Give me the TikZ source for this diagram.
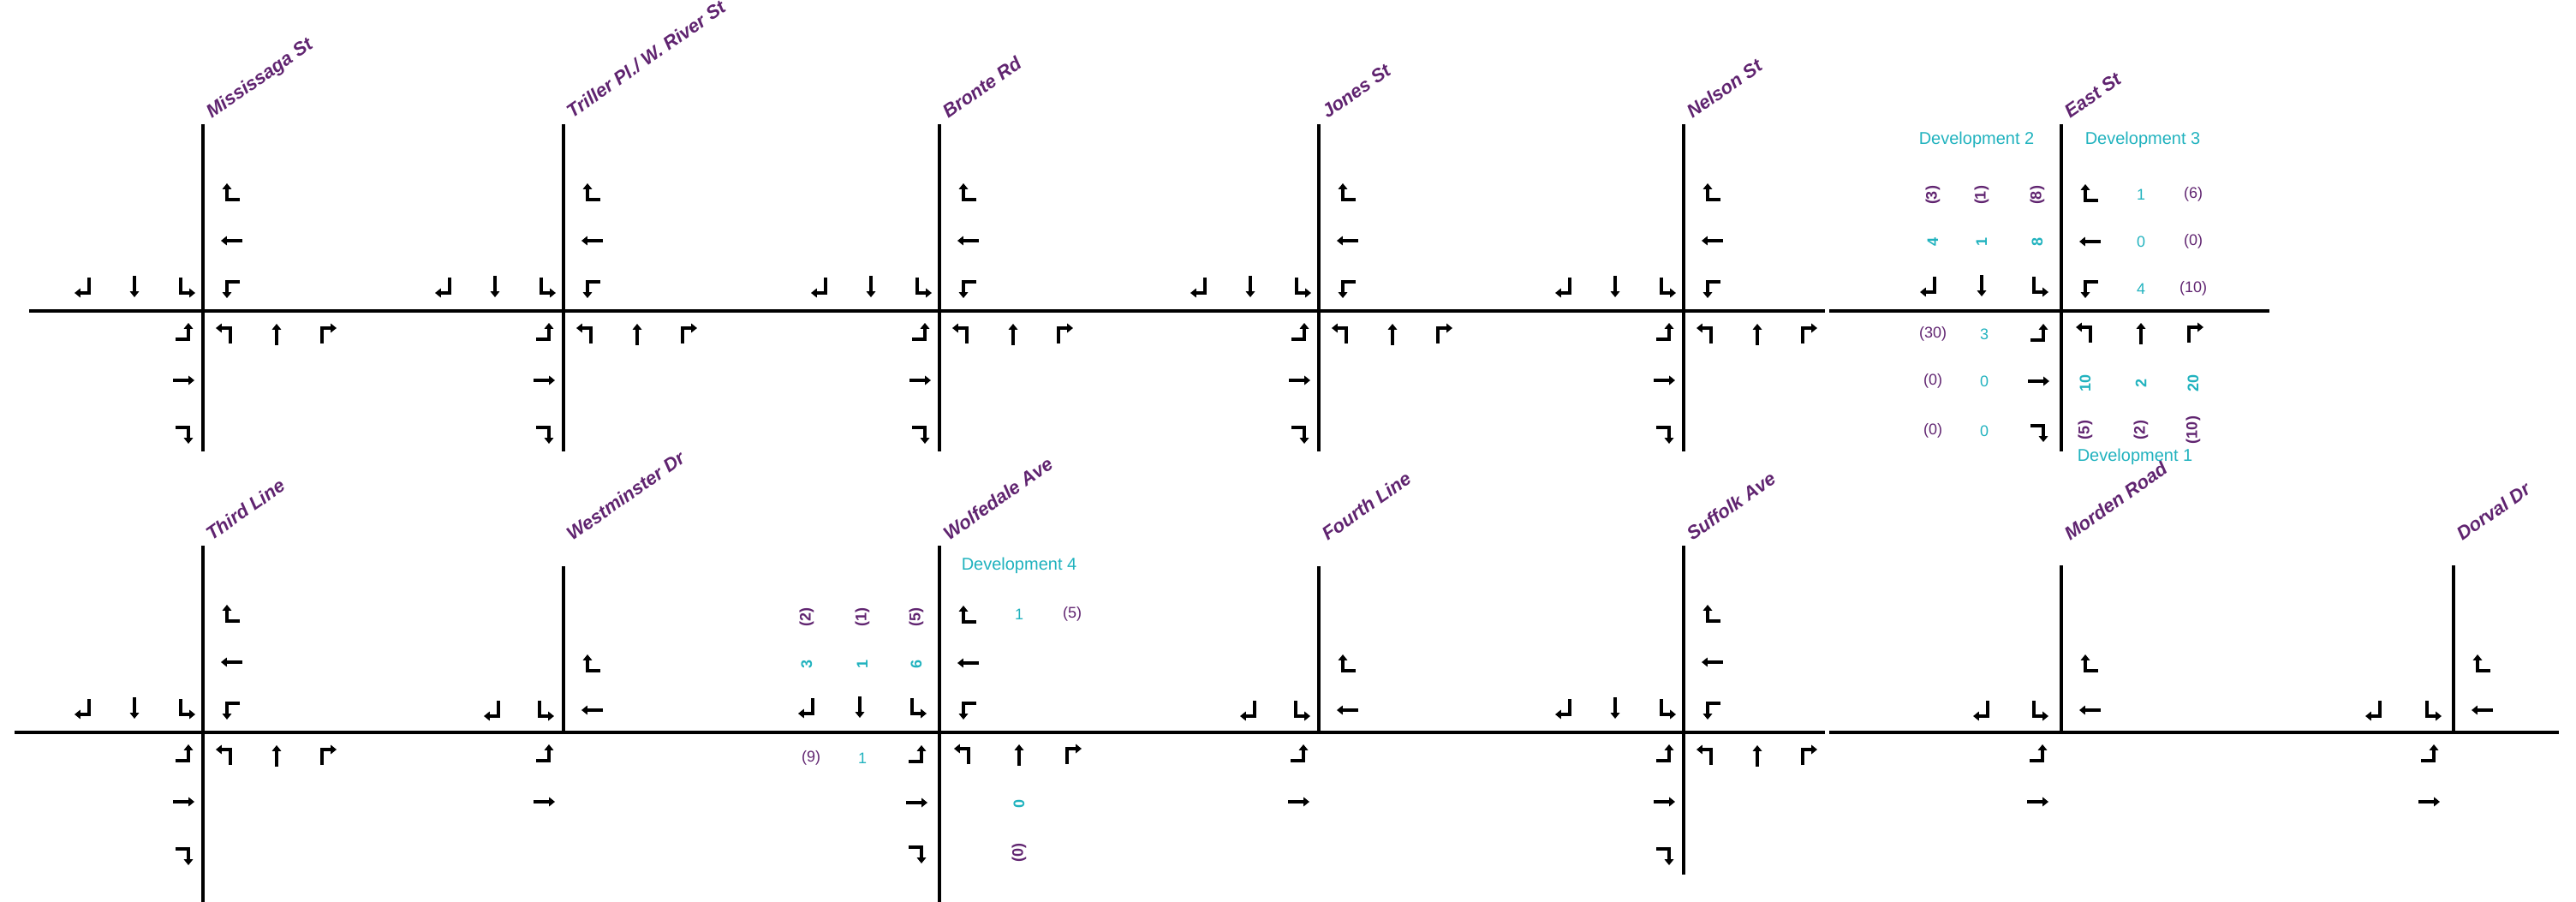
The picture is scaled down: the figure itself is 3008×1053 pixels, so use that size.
\documentclass[tikz,border=0pt]{standalone}
\usepackage{fontspec}
\setmainfont{Liberation Sans}
\usetikzlibrary{arrows.meta}
\definecolor{pur}{RGB}{96,36,112}
\definecolor{cya}{RGB}{32,178,190}
\tikzset{
  road/.style={line width=1.8pt, black},
  glyph/.style={line width=2.2pt, black, -{Triangle[length=3.4pt,width=5.2pt]}},
  eR/.pic={\draw[glyph] (9,8) -- (-6,8) -- (-6,-11);},
  eT/.pic={\draw[glyph] (12,0) -- (-13,0);},
  eL/.pic={\draw[glyph] (9,-8) -- (-6,-8) -- (-6,11);},
  nR/.pic={\draw[glyph] (6,-10) -- (6,8) -- (-11,8);},
  nT/.pic={\draw[glyph] (0,-12) -- (0,13);},
  nL/.pic={\draw[glyph] (-6,-10) -- (-6,8) -- (11,8);},
  wL/.pic={\draw[glyph] (-9,8) -- (6,8) -- (6,-11);},
  wT/.pic={\draw[glyph] (-12,0) -- (13,0);},
  wR/.pic={\draw[glyph] (-9,-8) -- (6,-8) -- (6,11);},
  sL/.pic={\draw[glyph] (6,10) -- (6,-8) -- (-11,-8);},
  sT/.pic={\draw[glyph] (0,12) -- (0,-13);},
  sR/.pic={\draw[glyph] (-6,10) -- (-6,-8) -- (11,-8);},
  street/.style={text=pur, font=\fontsize{11}{13}\selectfont\bfseries\itshape, rotate=35, anchor=base west, inner sep=0pt},
  dev/.style={text=cya, font=\fontsize{10}{12}\selectfont, inner sep=0pt},
  pn/.style={text=pur, font=\fontsize{9}{11}\selectfont, inner sep=0pt},
  cn/.style={text=cya, font=\fontsize{9}{11}\selectfont, inner sep=0pt},
  pv/.style={text=pur, rotate=90, font=\fontsize{9}{11}\selectfont\bfseries, inner sep=0pt},
  cv/.style={text=cya, rotate=90, font=\fontsize{9}{11}\selectfont\bfseries, inner sep=0pt},
}
\newcommand\fullstd[2]{%
 \begin{scope}[shift={(#1,#2)}]
  \pic at (34,-138) {eR}; \pic at (34,-82) {eT}; \pic at (34,-26) {eL};
  \pic at (-139,-29) {nR}; \pic at (-80,-29) {nT}; \pic at (-20,-29) {nL};
  \pic at (-23,25) {wL}; \pic at (-23,81) {wT}; \pic at (-23,144) {wR};
  \pic at (26,28) {sL}; \pic at (86,28) {sT}; \pic at (145,28) {sR};
 \end{scope}}
\newcommand\fullwide[2]{%
 \begin{scope}[shift={(#1,#2)}]
  \pic at (34,-137) {eR}; \pic at (34,-81) {eT}; \pic at (34,-26) {eL};
  \pic at (-154,-30) {nR}; \pic at (-93,-30) {nT}; \pic at (-26,-30) {nL};
  \pic at (-27,26) {wL}; \pic at (-27,82) {wT}; \pic at (-27,142) {wR};
  \pic at (28,27) {sL}; \pic at (93,27) {sT}; \pic at (155,27) {sR};
 \end{scope}}
\newcommand\tint[5]{%
 \begin{scope}[shift={(#1,#2)}]
  \pic at (#3,-27) {nR}; \pic at (#4,-27) {nL};
  \pic at (34,-80) {eR}; \pic at (34,-26) {eT};
  \pic at (#5,25) {wL}; \pic at (#5,81) {wT};
 \end{scope}}
\begin{document}
\begin{tikzpicture}[x=0.5pt,y=-0.5pt]
\useasboundingbox (0,0) rectangle (3008,1053);
% ---------- top row roads
\draw[road] (34,363) -- (2131,363);
\draw[road] (2136,363) -- (2650,363);
\foreach \X in {237,658,1097,1540,1966,2407} { \draw[road] (\X,145) -- (\X,527); }
% ---------- bottom row roads
\draw[road] (17,855) -- (2131,855);
\draw[road] (2136,855) -- (2988,855);
\draw[road] (237,637) -- (237,1053);
\draw[road] (658,661) -- (658,855);
\draw[road] (1097,637) -- (1097,1053);
\draw[road] (1540,661) -- (1540,855);
\draw[road] (1966,637) -- (1966,1021);
\draw[road] (2407,660) -- (2407,855);
\draw[road] (2865,660) -- (2865,855);
% ---------- lane arrows
\fullstd{237}{363}
\fullstd{658}{363}
\fullstd{1097}{363}
\fullstd{1540}{363}
\fullstd{1966}{363}
\fullwide{2407}{363}
\fullstd{237}{855}
\tint{658}{855}{-82}{-22}{-23}
\fullwide{1097}{855}
\tint{1540}{855}{-81}{-21}{-24}
\fullstd{1966}{855}
\tint{2407}{855}{-92}{-26}{-28}
\tint{2865}{855}{-92}{-25}{-29}
% ---------- street names
\node[street] (s1) at (247,139) {Mississaga St};
\node[street] (s2) at (668,139) {Triller Pl./ W. River St};
\node[street] (s3) at (1107,139) {Bronte Rd};
\node[street] (s4) at (1550,139) {Jones St};
\node[street] (s5) at (1976,139) {Nelson St};
\node[street] (s6) at (2417,139) {East St};
\node[street] (s7) at (247,632) {Third Line};
\node[street] (s8) at (668,632) {Westminster Dr};
\node[street] (s9) at (1108,632) {Wolfedale Ave};
\node[street] (s10) at (1550,632) {Fourth Line};
\node[street] (s11) at (1976,632) {Suffolk Ave};
\node[street] (s12) at (2417,632) {Morden Road};
\node[street] (s13) at (2875,632) {Dorval Dr};
% ---------- development labels
\node[dev] (d2) at (2308,163) {Development 2};
\node[dev] (d3) at (2502,163) {Development 3};
\node[dev] (d1) at (2493,533) {Development 1};
\node[dev] (d4) at (1190,660) {Development 4};
% ---------- East St volumes
\node[pv] (a1) at (2257,228) {(3)};
\node[pv] (a2) at (2314,228) {(1)};
\node[pv] (a3) at (2379,228) {(8)};
\node[cv] (a4) at (2257,282) {4};
\node[cv] (a5) at (2314,282) {1};
\node[cv] (a6) at (2379,282) {8};
\node[cn] (a7) at (2500,227) {1};
\node[cn] (a8) at (2500,282) {0};
\node[cn] (a9) at (2500,337) {4};
\node[pn] (a10) at (2561,227) {(6)};
\node[pn] (a11) at (2561,282) {(0)};
\node[pn] (a12) at (2561,337) {(10)};
\node[pn] (a13) at (2257,390) {(30)};
\node[pn] (a14) at (2257,445) {(0)};
\node[pn] (a15) at (2257,503) {(0)};
\node[cn] (a16) at (2317,390) {3};
\node[cn] (a17) at (2317,445) {0};
\node[cn] (a18) at (2317,503) {0};
\node[cv] (a19) at (2435,447) {10};
\node[cv] (a20) at (2500,447) {2};
\node[cv] (a21) at (2561,447) {20};
\node[pv] (a22) at (2435,502) {(5)};
\node[pv] (a23) at (2500,502) {(2)};
\node[pv] (a24) at (2561,502) {(10)};
% ---------- Wolfedale volumes
\node[pv] (b1) at (942,720) {(2)};
\node[pv] (b2) at (1007,720) {(1)};
\node[pv] (b3) at (1070,720) {(5)};
\node[cv] (b4) at (942,775) {3};
\node[cv] (b5) at (1007,775) {1};
\node[cv] (b6) at (1070,775) {6};
\node[cn] (b7) at (1190,717) {1};
\node[pn] (b8) at (1252,717) {(5)};
\node[pn] (b9) at (947,885) {(9)};
\node[cn] (b10) at (1007,885) {1};
\node[cv] (b11) at (1190,938) {0};
\node[pv] (b12) at (1190,995) {(0)};
\end{tikzpicture}
\end{document}
